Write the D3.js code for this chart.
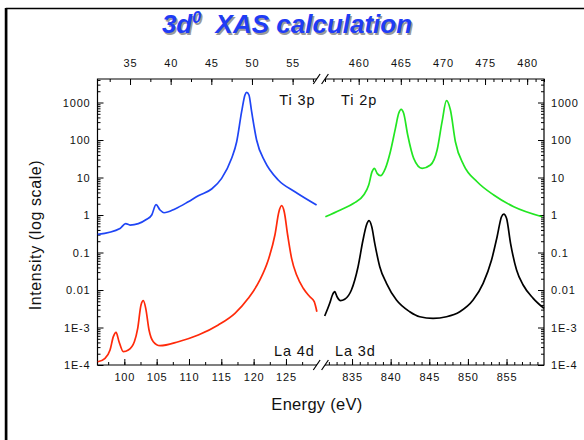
<!DOCTYPE html>
<html>
<head>
<meta charset="utf-8">
<script src="https://d3js.org/d3.v7.min.js"></script>
<style>
  body { margin: 0; background: #fff; }
  svg text { font-family: "Liberation Sans", Arial, sans-serif; }
</style>
</head>
<body>
<div id="chart"></div>
<script>
// ---- data ----
var yTicks = [1e-4, 1e-3, 0.01, 0.1, 1, 10, 100, 1000];
var yTickLabels = ["1E-4", "1E-3", "0.01", "0.1", "1", "10", "100", "1000"];

var topLeftTicks = [35, 40, 45, 50, 55];
var topRightTicks = [460, 465, 470, 475, 480];
var botLeftTicks = [100, 105, 110, 115, 120, 125];
var botRightTicks = [835, 840, 845, 850, 855];

// Ti 3p (top left axis, eV)
var ti3pE = [31.03, 33.77, 34.47, 35.0, 37.05, 37.67, 38.2, 38.69, 39.18, 40.53, 42.17, 43.4, 45.04, 46.27,
  47.5, 48.12, 48.73, 49.14, 49.35, 49.63, 49.96, 50.57, 51.6, 53.23, 55.28, 57.95];
var ti3p = [0.305, 0.44, 0.59, 0.54, 0.77, 1.0, 1.9, 1.36, 1.15, 1.45, 2.26, 3.27, 4.94, 9.5,
  32.5, 90, 569, 1585, 1870, 1585, 569, 100, 26.4, 8.6, 4.18, 1.85];

// La 4d (bottom left axis, eV)
var la4dE = [95.89, 97.02, 97.79, 98.3, 98.72, 99.18, 99.85, 100.62, 101.55, 102.07, 102.58, 102.94, 103.31,
  103.82, 104.48, 105.52, 108.35, 111.44, 114.53, 117.11, 119.17, 120.97, 122.26, 123.29, 123.91, 124.33,
  124.73, 125.26, 125.87, 126.65, 127.67, 128.7, 129.37, 129.78];
var la4d = [1.22e-4, 1.51e-4, 2.5e-4, 5.7e-4, 7.45e-4, 4.18e-4, 2.26e-4, 2.5e-4, 4.18e-4, 9.5e-4, 3.98e-3, 5.19e-3, 3.25e-3,
  8.57e-4, 4.18e-4, 3.27e-4, 4.18e-4, 6.3e-4, 1.17e-3, 2.39e-3, 6.0e-3, 0.0185, 0.063, 0.293, 1.22, 1.77,
  1.22, 0.293, 0.07, 0.025, 0.0111, 6.6e-3, 4.88e-3, 2.64e-3];

// Ti 2p (top right axis, eV)
var ti2pE = [456.04, 457.83, 459.41, 460.59, 461.19, 461.59, 461.86, 462.19, 462.58, 463.17, 463.76, 464.36,
  464.75, 465.04, 465.34, 465.82, 466.53, 467.53, 468.52, 469.31, 469.9, 470.42, 470.89, 471.48, 472.47,
  474.06, 476.03, 478.41, 481.78];
var ti2p = [0.9, 1.36, 2.05, 3.41, 6.3, 14.3, 17.6, 12.9, 11.2, 17.6, 48.8, 205,
  515, 659, 515, 136, 32.5, 17.6, 21.5, 54, 308, 1117, 631, 90, 21.5,
  7.7, 3.41, 1.66, 0.9];

// La 3d (bottom right axis, eV)
var la3dE = [831.46, 832.11, 832.46, 832.76, 833.06, 833.5, 834.05, 834.92, 835.78, 836.42, 836.87, 837.2,
  837.55, 837.94, 838.59, 839.46, 840.75, 842.47, 843.77, 845.49, 847.23, 848.95, 850.67, 851.97, 853.06,
  853.78, 854.35, 854.65, 855.0, 855.52, 856.3, 857.15, 858.45, 859.84];
var la3d = [2.03e-3, 4.42e-3, 7.36e-3, 9.0e-3, 6.6e-3, 5.2e-3, 5.65e-3, 0.01, 0.0418, 0.215, 0.54, 0.705,
  0.49, 0.176, 0.0418, 0.0151, 5.4e-3, 2.64e-3, 1.94e-3, 1.76e-3, 1.94e-3, 2.64e-3, 5.4e-3, 0.0151, 0.063,
  0.264, 0.9, 1.06, 0.82, 0.176, 0.034, 0.0136, 6.0e-3, 3.25e-3];

// ---- layout ----
var width = 584, height = 440;
var top_ = 79, bottom = 365, left = 97.5, right = 544;
var gapL = 317, gapR = 325;   // axis break

var svg = d3.select("#chart").append("svg")
  .attr("width", width)
  .attr("height", height);

// frame round the whole figure
svg.append("rect")
  .attr("x", 6.5).attr("y", 8.5)
  .attr("width", 620).attr("height", 500)
  .attr("fill", "none")
  .attr("stroke", "#000")
  .attr("stroke-width", 1.5);
svg.append("line")
  .attr("x1", 6).attr("x2", 6).attr("y1", 8).attr("y2", height)
  .attr("stroke", "#000").attr("stroke-width", 2.5);

// title with a grey shadow
function title(g, dx, dy, fill) {
  var t = g.append("text")
    .attr("x", 287 + dx)
    .attr("y", 33 + dy)
    .attr("text-anchor", "middle")
    .attr("font-size", "26px")
    .attr("font-weight", "bold")
    .attr("font-style", "italic")
    .attr("fill", fill);
  t.append("tspan").text("3d");
  t.append("tspan").attr("font-size", "16px").attr("dy", -10).text("0");
  t.append("tspan").attr("dy", 10).text("\u00a0 XAS calculation");
}
title(svg, 1.5, 1.5, "#9a9a9a");
title(svg, 0, 0, "#1f3cf5");

// scales
var y = d3.scaleLog().domain([1e-4, 4236]).range([bottom, top_]);
var xTopL = d3.scaleLinear().domain([31, 58]).range([left, gapL]);
var xBotL = d3.scaleLinear().domain([95.85, 129.8]).range([left, gapL]);
var xTopR = d3.scaleLinear().domain([456, 482]).range([gapR, right]);
var xBotR = d3.scaleLinear().domain([831.5, 859.85]).range([gapR, right]);

var tickFont = function(g) {
  g.select(".domain").remove();
  g.selectAll("line").attr("stroke", "#000");
  g.selectAll("text")
    .attr("font-family", "Liberation Sans, Arial, sans-serif")
    .attr("font-size", "11px")
    .attr("letter-spacing", "0.8px")
    .attr("fill", "#111");
};

function minors(scale, step) {
  var d = scale.domain(), out = [];
  for (var v = Math.ceil(d[0] / step) * step; v <= d[1]; v += step) out.push(+v.toFixed(3));
  return out;
}

// x axes, ticks pointing into the plot
function xAxis(scale, major, minorStep, isTop) {
  var ax = isTop ? d3.axisTop(scale) : d3.axisBottom(scale);
  var ty = isTop ? top_ : bottom;
  svg.append("g")
    .attr("transform", "translate(0," + ty + ")")
    .call(ax.tickValues(minors(scale, minorStep)).tickSizeInner(-3).tickSizeOuter(0).tickFormat(""))
    .call(tickFont);
  svg.append("g")
    .attr("transform", "translate(0," + ty + ")")
    .call((isTop ? d3.axisTop(scale) : d3.axisBottom(scale))
      .tickValues(major).tickSizeInner(-6).tickSizeOuter(0).tickPadding(isTop ? 12 : 8).tickFormat(d3.format("d")))
    .call(tickFont);
}
xAxis(xTopL, topLeftTicks, 2.5, true);
xAxis(xTopR, topRightTicks, 1, true);
xAxis(xBotL, botLeftTicks, 2.5, false);
xAxis(xBotR, botRightTicks, 1, false);

// y axes on both sides
var yMinor = [];
yTicks.concat([10000]).forEach(function(t) {
  for (var k = 2; k <= 9; k++) { if (t * k / 10 > 1e-4 && t * k / 10 < 4236) yMinor.push(t * k / 10); }
});
[[d3.axisLeft, left], [d3.axisRight, right]].forEach(function(a) {
  svg.append("g")
    .attr("transform", "translate(" + a[1] + ",0)")
    .call(a[0](y).tickValues(yMinor).tickSizeInner(-3).tickSizeOuter(0).tickFormat(""))
    .call(tickFont);
  svg.append("g")
    .attr("transform", "translate(" + a[1] + ",0)")
    .call(a[0](y).tickValues(yTicks).tickSizeInner(-6).tickSizeOuter(0).tickPadding(7)
      .tickFormat(function(d, i) { return yTickLabels[i]; }))
    .call(tickFont);
});

// frame lines with the break
var frame = svg.append("g").attr("stroke", "#000").attr("stroke-width", 1.2).attr("fill", "none");
frame.append("path").attr("d", "M" + gapL + "," + top_ + "H" + left + "V" + bottom + "H" + gapL);
frame.append("path").attr("d", "M" + gapR + "," + top_ + "H" + right + "V" + bottom + "H" + gapR);
[top_, bottom].forEach(function(yy) {
  [316.7, 325].forEach(function(cx) {
    frame.append("line")
      .attr("x1", cx - 3.4).attr("y1", yy + 5)
      .attr("x2", cx + 3.4).attr("y2", yy - 5);
  });
});

// spectra
function spectrum(xs, vs, xScale, color) {
  var pts = xs.map(function(e, i) { return [xScale(e), y(vs[i])]; });
  svg.append("path")
    .attr("d", d3.line().curve(d3.curveMonotoneX)(pts))
    .attr("fill", "none")
    .attr("stroke", color)
    .attr("stroke-width", 1.7);
}
spectrum(ti3pE, ti3p, xTopL, "#1f45f5");
spectrum(la4dE, la4d, xBotL, "#ff2a0a");
spectrum(ti2pE, ti2p, xTopR, "#22e622");
spectrum(la3dE, la3d, xBotR, "#000");

// edge labels
var edgeLabels = [
  { t: "Ti 3p", x: 279.3, y: 104.5 },
  { t: "Ti 2p", x: 341, y: 104.5 },
  { t: "La 4d", x: 274, y: 355.7 },
  { t: "La 3d", x: 335, y: 355.7 }
];
svg.append("g").selectAll("text")
  .data(edgeLabels)
  .enter().append("text")
  .attr("x", function(d) { return d.x; })
  .attr("y", function(d) { return d.y; })
  .attr("font-size", "14.5px")
  .attr("letter-spacing", "0.9px")
  .attr("fill", "#111")
  .text(function(d) { return d.t; });

// axis titles
svg.append("text")
  .attr("x", 317).attr("y", 409.5)
  .attr("text-anchor", "middle")
  .attr("font-size", "16.5px")
  .attr("letter-spacing", "0.3px")
  .attr("fill", "#111")
  .text("Energy (eV)");

svg.append("text")
  .attr("transform", "translate(40.5,235) rotate(-90)")
  .attr("text-anchor", "middle")
  .attr("font-size", "16px")
  .attr("letter-spacing", "0.6px")
  .attr("fill", "#111")
  .text("Intensity (log scale)");
</script>
</body>
</html>
